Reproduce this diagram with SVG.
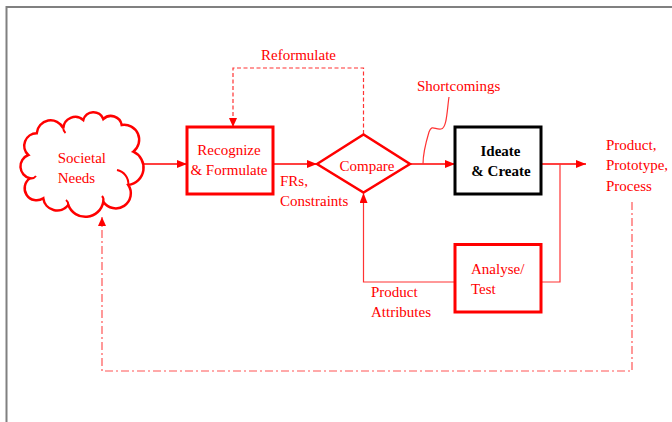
<svg xmlns="http://www.w3.org/2000/svg" width="672" height="422" viewBox="0 0 672 422">
  <defs>
    <marker id="arrow" viewBox="0 0 10 8" refX="10" refY="4" markerWidth="10" markerHeight="8" markerUnits="userSpaceOnUse" orient="auto">
      <path d="M0,0 L10,4 L0,8 z" fill="#ff0000"/>
    </marker>
    <marker id="arrowSmall" viewBox="0 0 9 8" refX="9" refY="4" markerWidth="9" markerHeight="8" markerUnits="userSpaceOnUse" orient="auto">
      <path d="M0,0 L9,4 L0,8 z" fill="#ff0000"/>
    </marker>
  </defs>
  <style>
    .frame { stroke: #808080; stroke-width: 2; fill: none; }
    .lbl { font-family: "Liberation Serif", "Times New Roman", serif; font-size: 15px; fill: #ff0000; }
    .bold { font-family: "Liberation Serif", "Times New Roman", serif; font-size: 15px; font-weight: bold; fill: #000000; }
    .box { fill: #ffffff; stroke: #ff0000; stroke-width: 3; }
    .main { stroke: #ff0000; stroke-width: 1.5; fill: none; }
    .thin { stroke: #ff3333; stroke-width: 1.2; fill: none; }
    .dash { stroke: #ff3333; stroke-width: 1.2; fill: none; stroke-dasharray: 4 2.5; }
    .dashdot { stroke: #ff5555; stroke-width: 1.2; fill: none; stroke-dasharray: 8 3 2 3; }
  </style>

  <rect width="672" height="422" fill="#ffffff"/>
  <!-- page frame -->
  <path class="frame" d="M6.5,422 L6.5,7 L672,7"/>

  <!-- connectors -->
  <g id="connectors">
    <line class="main" x1="143" y1="164" x2="187" y2="164" marker-end="url(#arrow)"/>
    <line class="main" x1="273" y1="164" x2="317" y2="164" marker-end="url(#arrow)"/>
    <line class="main" x1="410" y1="164" x2="455" y2="164" marker-end="url(#arrow)"/>
    <line class="main" x1="541" y1="164" x2="586" y2="164" marker-end="url(#arrow)"/>
    <polyline class="thin" points="560,164 560,282 541,282"/>
    <polyline class="thin" points="455,282 363.5,282 363.5,193" marker-end="url(#arrow)"/>
    <polyline class="dash" points="363.5,134 363.5,68 233,68 233,127" marker-end="url(#arrowSmall)"/>
    <polyline class="dashdot" points="632,202 632,371 102,371 102,217" marker-end="url(#arrowSmall)"/>
    <!-- callout squiggle for the shortcomings label -->
    <path class="thin" d="M449,97 C447,110 447,128 441,129 C435,130 432,124 429,132 C426,142 423,155 423,164"/>
  </g>

  <!-- Societal Needs cloud -->
  <g id="societal-needs">
    <path fill="#ffffff" stroke="#ff0000" stroke-width="2.5" d="M36.7,133.3 A14,14 0 0 1 63.3,128.3 A12,12 0 0 1 83.3,120 A10.5,10.5 0 0 1 103.3,119 A11,11 0 0 1 121.7,125 A15,15 0 0 1 133.3,151.7 A17.5,17.5 0 0 1 128.3,185 A15,15 0 0 1 103.3,201.7 A18.2,18.2 0 0 1 68.3,205 A14,14 0 0 1 43.3,198.3 A12,12 0 0 1 30,178.3 A12.2,12.2 0 0 1 28.3,155 A12.5,12.5 0 0 1 36.7,133.3 Z"/>
    <g fill="none" stroke="#ff0000" stroke-width="2">
      <path d="M128.3,185 A14,14 0 0 0 117,170"/>
      <path d="M103.3,201.7 A6,6 0 0 0 102,196"/>
      <path d="M68.3,205 A6,6 0 0 0 66,200"/>
      <path d="M30,178.3 A6,6 0 0 0 36,176"/>
      <path d="M63.3,128.3 A6,6 0 0 0 65.5,133"/>
    </g>
    <text class="lbl" x="57.7" y="163">Societal</text>
    <text class="lbl" x="57.7" y="183">Needs</text>
  </g>

  <g id="recognize-formulate">
    <rect class="box" x="187" y="127" width="86" height="67"/>
    <text class="lbl" x="229" y="155" text-anchor="middle">Recognize</text>
    <text class="lbl" x="229" y="175" text-anchor="middle">&amp; Formulate</text>
  </g>

  <g id="compare">
    <polygon fill="#ffffff" stroke="#ff0000" stroke-width="2.5" points="317,164 363.5,134.5 410,164 363.5,192.5"/>
    <text class="lbl" x="339.5" y="170.5">Compare</text>
  </g>

  <g id="ideate-create">
    <rect x="455" y="127" width="86" height="67" fill="#ffffff" stroke="#000000" stroke-width="3"/>
    <text class="bold" x="500.5" y="156" text-anchor="middle">Ideate</text>
    <text class="bold" x="501" y="176" text-anchor="middle">&amp; Create</text>
  </g>

  <g id="analyse-test">
    <rect class="box" x="455" y="244.5" width="86" height="67.5"/>
    <text class="lbl" x="471" y="274">Analyse/</text>
    <text class="lbl" x="471" y="294">Test</text>
  </g>

  <!-- connector labels -->
  <g id="labels">
    <text class="lbl" x="261" y="60">Reformulate</text>
    <text class="lbl" x="417" y="91">Shortcomings</text>
    <text class="lbl" x="280" y="185.5">FRs,</text>
    <text class="lbl" x="280" y="205.5">Constraints</text>
    <text class="lbl" x="371" y="297">Product</text>
    <text class="lbl" x="371" y="317">Attributes</text>
    <text class="lbl" x="606" y="150">Product,</text>
    <text class="lbl" x="606" y="170">Prototype,</text>
    <text class="lbl" x="606" y="190.5">Process</text>
  </g>
</svg>
